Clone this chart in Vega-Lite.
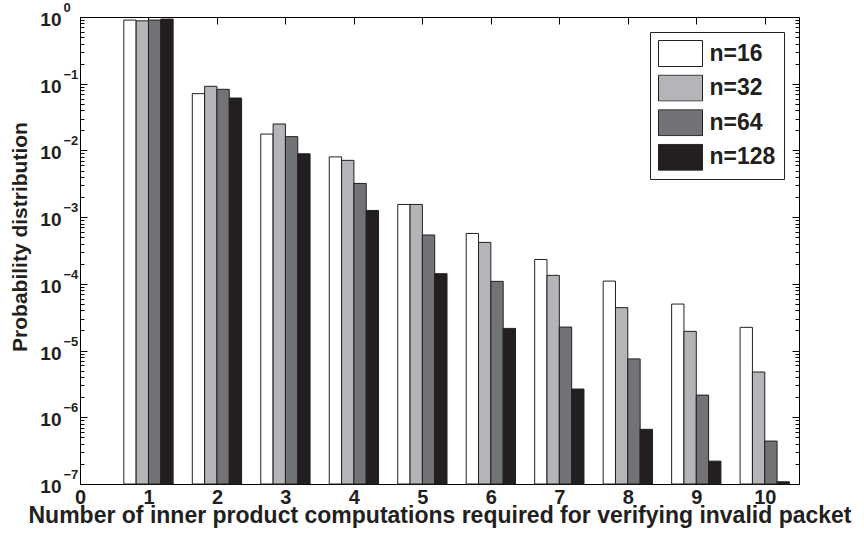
{
  "$schema": "https://vega.github.io/schema/vega-lite/v6.json",
  "width": 719,
  "height": 467,
  "autosize": {"type": "none"},
  "padding": {"left": 80, "top": 17, "right": 65, "bottom": 55},
  "background": "white",
  "config": {
    "view": {"stroke": "#000000", "strokeWidth": 1},
    "font": "Liberation Sans",
    "axis": {
      "grid": false,
      "domain": false,
      "labelFont": "Liberation Sans",
      "labelFontWeight": "bold",
      "labelColor": "#231f20",
      "titleFont": "Liberation Sans",
      "titleFontWeight": "bold",
      "titleColor": "#231f20",
      "tickColor": "#000000",
      "tickWidth": 1,
      "labelFlush": false,
      "labelOverlap": false
    }
  },
  "data": {
    "values": [
      {"k": 1, "n": "n=16", "p": 0.9},
      {"k": 1, "n": "n=32", "p": 0.875},
      {"k": 1, "n": "n=64", "p": 0.9},
      {"k": 1, "n": "n=128", "p": 0.93},
      {"k": 2, "n": "n=16", "p": 0.071},
      {"k": 2, "n": "n=32", "p": 0.0914},
      {"k": 2, "n": "n=64", "p": 0.0824},
      {"k": 2, "n": "n=128", "p": 0.061},
      {"k": 3, "n": "n=16", "p": 0.0176},
      {"k": 3, "n": "n=32", "p": 0.0249},
      {"k": 3, "n": "n=64", "p": 0.0161},
      {"k": 3, "n": "n=128", "p": 0.0089},
      {"k": 4, "n": "n=16", "p": 0.008},
      {"k": 4, "n": "n=32", "p": 0.0071},
      {"k": 4, "n": "n=64", "p": 0.0032},
      {"k": 4, "n": "n=128", "p": 0.00126},
      {"k": 5, "n": "n=16", "p": 0.00155},
      {"k": 5, "n": "n=32", "p": 0.00155},
      {"k": 5, "n": "n=64", "p": 0.00054},
      {"k": 5, "n": "n=128", "p": 0.000142},
      {"k": 6, "n": "n=16", "p": 0.00057},
      {"k": 6, "n": "n=32", "p": 0.000418},
      {"k": 6, "n": "n=64", "p": 0.000109},
      {"k": 6, "n": "n=128", "p": 0.0000215},
      {"k": 7, "n": "n=16", "p": 0.000232},
      {"k": 7, "n": "n=32", "p": 0.000134},
      {"k": 7, "n": "n=64", "p": 0.0000225},
      {"k": 7, "n": "n=128", "p": 0.00000265},
      {"k": 8, "n": "n=16", "p": 0.00011},
      {"k": 8, "n": "n=32", "p": 0.000044},
      {"k": 8, "n": "n=64", "p": 0.0000075},
      {"k": 8, "n": "n=128", "p": 0.00000066},
      {"k": 9, "n": "n=16", "p": 0.0000498},
      {"k": 9, "n": "n=32", "p": 0.0000194},
      {"k": 9, "n": "n=64", "p": 0.00000215},
      {"k": 9, "n": "n=128", "p": 0.00000022},
      {"k": 10, "n": "n=16", "p": 0.0000223},
      {"k": 10, "n": "n=32", "p": 0.00000477},
      {"k": 10, "n": "n=64", "p": 0.00000044},
      {"k": 10, "n": "n=128", "p": 0.000000108}
    ]
  },
  "layer": [
    {
      "mark": {"type": "bar", "stroke": "#231f20", "strokeWidth": 1},
      "encoding": {
        "x": {
          "field": "k", "type": "ordinal",
          "scale": {"type": "band", "domain": [1, 2, 3, 4, 5, 6, 7, 8, 9, 10], "paddingInner": 0, "paddingOuter": 0.25, "align": 1},
          "axis": null
        },
        "y": {
          "field": "p", "type": "quantitative", "stack": null,
          "scale": {"type": "log", "domain": [1e-7, 1], "nice": false},
          "axis": null
        },
        "xOffset": {
          "field": "n", "type": "nominal",
          "scale": {"domain": ["n=16", "n=32", "n=64", "n=128"], "paddingInner": 0, "paddingOuter": 0.778}
        },
        "fill": {
          "field": "n", "type": "nominal",
          "scale": {"domain": ["n=16", "n=32", "n=64", "n=128"], "range": ["#ffffff", "#b4b5b9", "#727377", "#231f20"]},
          "legend": {
            "title": null,
            "orient": "none",
            "legendX": 570,
            "legendY": 15,
            "padding": 8,
            "strokeColor": "#231f20",
            "fillColor": "#ffffff",
            "symbolType": "M-1,-1H2.385V1H-1Z",
            "symbolSize": 676,
            "symbolStrokeColor": "#231f20",
            "symbolStrokeWidth": 1,
            "clipHeight": 27,
            "labelFont": "Liberation Sans",
            "labelFontWeight": "bold",
            "labelFontSize": 23,
            "labelColor": "#231f20",
            "labelOffset": 24.5,
            "rowPadding": 7.6
          }
        }
      }
    },
    {
      "mark": {"type": "point", "opacity": 0},
      "encoding": {
        "x": {
          "field": "k", "type": "quantitative",
          "scale": {"domain": [0, 10.5], "nice": false, "zero": false},
          "axis": {
            "orient": "bottom",
            "values": [0, 1, 2, 3, 4, 5, 6, 7, 8, 9, 10],
            "format": "d",
            "ticks": false,
            "labelPadding": 3,
            "labelFontSize": 20,
            "labelBaseline": "top",
            "title": "Number of inner product computations required for verifying invalid packet",
            "titleFontSize": 23,
            "titleBaseline": "top",
            "titleY": 20
          }
        },
        "y": {
          "field": "p", "type": "quantitative",
          "axis": {
            "orient": "left",
            "values": [1e-7, 1e-6, 1e-5, 1e-4, 1e-3, 1e-2, 1e-1, 1],
            "ticks": false,
            "labelPadding": 19,
            "labelOffset": 2.5,
            "labelFontSize": 19,
            "labelExpr": "'10'",
            "title": "Probability distribution",
            "titleFontSize": 21,
            "titleAngle": 270,
            "titleBaseline": "alphabetic",
            "titleX": -53.5,
            "titleY": 219.5
          }
        }
      }
    },
    {
      "mark": {"type": "point", "opacity": 0},
      "encoding": {
        "x": {"field": "k", "type": "quantitative", "scale": {"domain": [0, 10.5], "nice": false, "zero": false}, "axis": null},
        "y": {
          "field": "p", "type": "quantitative",
          "axis": {
            "orient": "left",
            "values": [1e-7, 1e-6, 1e-5, 1e-4, 1e-3, 1e-2, 1e-1, 1],
            "ticks": false,
            "labelPadding": 17,
            "labelAlign": "left",
            "labelOffset": -9.5,
            "labelFontSize": 13,
            "labelExpr": "datum.value >= 1 ? '0' : '−' + round(-log(datum.value) / LN10)",
            "title": null
          }
        }
      }
    },
    {
      "mark": {"type": "point", "opacity": 0},
      "encoding": {
        "x": {
          "field": "k", "type": "quantitative",
          "scale": {"domain": [0, 10.5], "nice": false, "zero": false},
          "axis": {"orient": "top", "values": [0, 1, 2, 3, 4, 5, 6, 7, 8, 9, 10], "tickSize": -7, "labels": false, "title": null}
        },
        "y": {
          "field": "p", "type": "quantitative",
          "axis": {"orient": "right", "values": [1e-7, 1e-6, 1e-5, 1e-4, 1e-3, 1e-2, 1e-1, 1], "tickSize": -7, "labels": false, "title": null}
        }
      }
    },
    {
      "mark": {"type": "point", "opacity": 0},
      "encoding": {
        "x": {
          "field": "k", "type": "quantitative",
          "scale": {"domain": [0, 10.5], "nice": false, "zero": false},
          "axis": {"orient": "bottom", "values": [0, 1, 2, 3, 4, 5, 6, 7, 8, 9, 10], "tickSize": -7, "labels": false, "title": null}
        },
        "y": {
          "field": "p", "type": "quantitative",
          "axis": {"orient": "left", "values": [1e-7, 1e-6, 1e-5, 1e-4, 1e-3, 1e-2, 1e-1, 1], "tickSize": -7, "labels": false, "title": null}
        }
      }
    },
    {
      "mark": {"type": "point", "opacity": 0},
      "encoding": {
        "x": {"field": "k", "type": "quantitative", "scale": {"domain": [0, 10.5], "nice": false, "zero": false}, "axis": null},
        "y": {
          "field": "p", "type": "quantitative",
          "axis": {
            "orient": "left", "tickSize": -4, "labels": false, "title": null,
            "values": [2e-7, 3e-7, 4e-7, 5e-7, 6e-7, 7e-7, 8e-7, 9e-7, 2e-6, 3e-6, 4e-6, 5e-6, 6e-6, 7e-6, 8e-6, 9e-6, 2e-5, 3e-5, 4e-5, 5e-5, 6e-5, 7e-5, 8e-5, 9e-5, 2e-4, 3e-4, 4e-4, 5e-4, 6e-4, 7e-4, 8e-4, 9e-4, 2e-3, 3e-3, 4e-3, 5e-3, 6e-3, 7e-3, 8e-3, 9e-3, 2e-2, 3e-2, 4e-2, 5e-2, 6e-2, 7e-2, 8e-2, 9e-2, 2e-1, 3e-1, 4e-1, 5e-1, 6e-1, 7e-1, 8e-1, 9e-1]
          }
        }
      }
    },
    {
      "mark": {"type": "point", "opacity": 0},
      "encoding": {
        "x": {"field": "k", "type": "quantitative", "scale": {"domain": [0, 10.5], "nice": false, "zero": false}, "axis": null},
        "y": {
          "field": "p", "type": "quantitative",
          "axis": {
            "orient": "right", "tickSize": -4, "labels": false, "title": null,
            "values": [2e-7, 3e-7, 4e-7, 5e-7, 6e-7, 7e-7, 8e-7, 9e-7, 2e-6, 3e-6, 4e-6, 5e-6, 6e-6, 7e-6, 8e-6, 9e-6, 2e-5, 3e-5, 4e-5, 5e-5, 6e-5, 7e-5, 8e-5, 9e-5, 2e-4, 3e-4, 4e-4, 5e-4, 6e-4, 7e-4, 8e-4, 9e-4, 2e-3, 3e-3, 4e-3, 5e-3, 6e-3, 7e-3, 8e-3, 9e-3, 2e-2, 3e-2, 4e-2, 5e-2, 6e-2, 7e-2, 8e-2, 9e-2, 2e-1, 3e-1, 4e-1, 5e-1, 6e-1, 7e-1, 8e-1, 9e-1]
          }
        }
      }
    }
  ],
  "resolve": {"scale": {"x": "independent"}, "axis": {"x": "independent", "y": "independent"}}
}
